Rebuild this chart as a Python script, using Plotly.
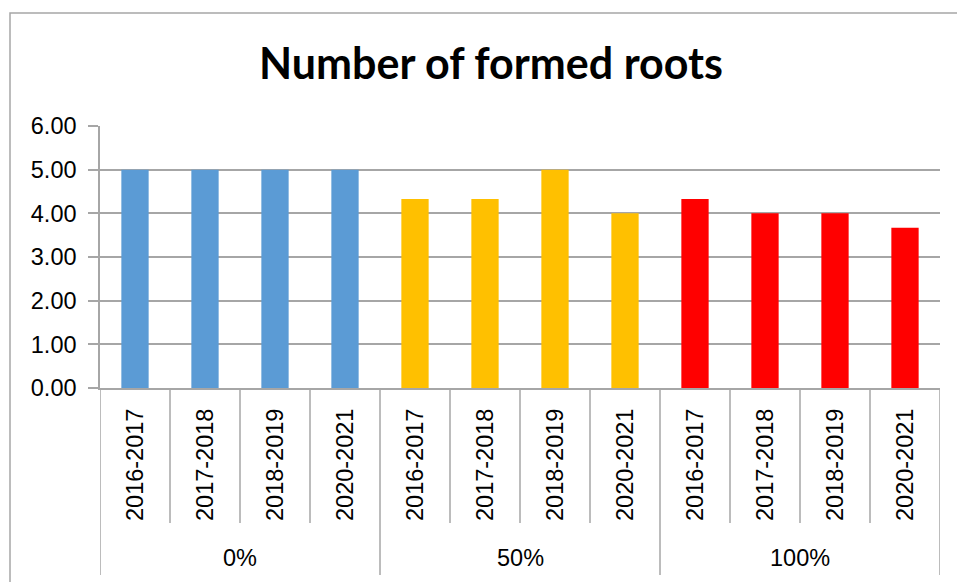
import plotly.graph_objects as go

title = "Number of formed roots"
groups = ["0%", "50%", "100%"]
seasons = ["2016-2017", "2017-2018", "2018-2019", "2020-2021"]
values_0 = [5.00, 5.00, 5.00, 5.00]
values_50 = [4.33, 4.33, 5.00, 4.00]
values_100 = [4.33, 4.00, 4.00, 3.67]
colors = ["#5B9BD5", "#FFC000", "#FF0000"]
y_ticks = [0, 1, 2, 3, 4, 5, 6]

W, H = 957, 582
ML, MR, MT, MB = 100, 17, 126, 194
PW, PH = W - ML - MR, H - MT - MB
GRID = "#A6A6A6"
FONT = "Liberation Sans"
FS = 23.5

def py(pix):
    # pixel row -> paper y
    return (H - MB - pix) / PH

def px(pix):
    return (pix - ML) / PW

fig = go.Figure()
series = [values_0, values_50, values_100]
n = len(seasons)
for g, (name, vals, col) in enumerate(zip(groups, series, colors)):
    xs = [g * n + i for i in range(n)]
    fig.add_trace(go.Bar(x=xs, y=vals, marker=dict(color=col, line=dict(width=0)),
                         width=0.39, name=name, showlegend=False))

shapes = []
annotations = []
total = n * len(groups)
for k in range(total + 1):
    xb = k - 0.5
    is_group = (k % n == 0)
    shapes.append(dict(type="line", xref="x", yref="paper", x0=xb, x1=xb,
                       y0=0, y1=py(575) if is_group else py(523),
                       line=dict(color=GRID, width=1.5)))
for g, name in enumerate(groups):
    for i, s in enumerate(seasons):
        annotations.append(dict(x=g * n + i, y=py(465), xref="x", yref="paper",
                                xanchor="center", yanchor="middle",
                                text=s, textangle=-90, showarrow=False,
                                font=dict(family=FONT, size=FS, color="black")))
    annotations.append(dict(x=g * n + (n - 1) / 2, y=py(558), xref="x", yref="paper",
                            xanchor="center", yanchor="middle",
                            text=name, showarrow=False,
                            font=dict(family=FONT, size=FS, color="black")))

# chart border
shapes.append(dict(type="rect", xref="paper", yref="paper",
                   x0=px(10), x1=px(W + 20), y0=py(H + 20), y1=py(13),
                   line=dict(color=GRID, width=1.5), fillcolor="rgba(0,0,0,0)"))

fig.update_layout(
    width=W, height=H,
    margin=dict(l=ML, r=MR, t=MT, b=MB),
    paper_bgcolor="white", plot_bgcolor="white",
    title=dict(text="<b>" + title + "</b>", x=491 / W, xanchor="center",
               y=1 - 64 / H, yanchor="middle", yref="container",
               font=dict(family="Lato", size=43, color="black")),
    xaxis=dict(range=[-0.5, total - 0.5], showticklabels=False, ticks="",
               showgrid=False, zeroline=False, showline=True,
               linecolor=GRID, linewidth=1.5),
    yaxis=dict(range=[0, 6], tickvals=y_ticks, tickformat=".2f",
               ticks="outside", ticklen=10, tickcolor=GRID, tickwidth=1.5,
               ticklabelstandoff=7,
               showgrid=True, gridcolor=GRID, gridwidth=1.5,
               showline=True, linecolor=GRID, linewidth=1.5, zeroline=False,
               tickfont=dict(family=FONT, size=FS, color="black")),
    shapes=shapes, annotations=annotations,
    bargap=0.6,
)
fig.write_html("out.html")
